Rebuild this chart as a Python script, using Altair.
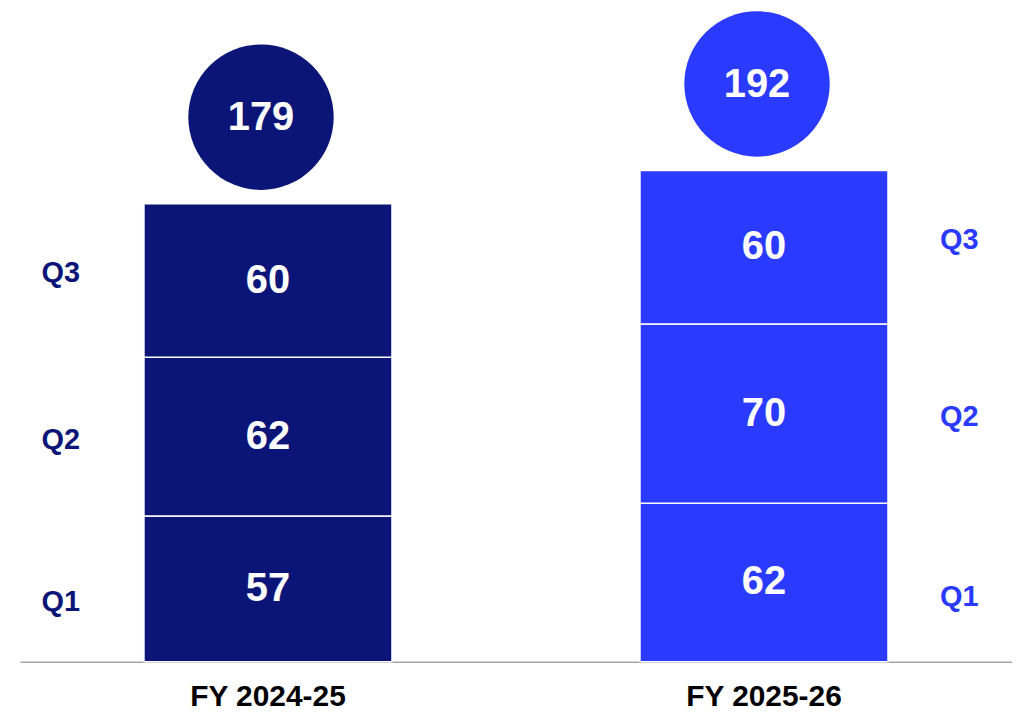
import altair as alt
import pandas as pd

years = ["FY 2024-25", "FY 2025-26"]
quarters = ["Q1", "Q2", "Q3"]
fy2425 = [57, 62, 60]
fy2526 = [62, 70, 60]
totals = [179, 192]
colors = ["#0B1577", "#2A3AFF"]

rows = []
for yr, vals in zip(years, [fy2425, fy2526]):
    for i, (q, v) in enumerate(zip(quarters, vals)):
        rows.append({"year": yr, "quarter": q, "qi": i, "value": v})
df = pd.DataFrame(rows)
tot = pd.DataFrame({"year": years, "total": totals})

FONT = "Liberation Sans"

x = alt.X(
    "year:N",
    sort=years,
    scale=alt.Scale(domain=years, paddingInner=0.5, paddingOuter=0.25),
    axis=alt.Axis(
        title=None, labelAngle=0, labelFont=FONT, labelFontWeight="bold",
        labelFontSize=30, labelColor="black", ticks=False,
        domainColor="#A6A6A6", domainWidth=1.5, labelPadding=20, grid=False,
    ),
)
yscale = alt.Scale(domain=[0, 255], nice=False, zero=True)
color = alt.Color("year:N", scale=alt.Scale(domain=years, range=colors), legend=None)

base = (
    alt.Chart(df)
    .transform_stack(stack="value", groupby=["year"], as_=["y0", "y1"],
                     sort=[alt.SortField("qi", order="ascending")])
    .transform_calculate(
        mid="(datum.y0 + datum.y1) / 2",
        qpos="datum.y0 + (0.41 + 0.07 * datum.qi) * (datum.y1 - datum.y0)",
    )
)

bars = base.mark_bar(stroke="white", strokeWidth=1.5).encode(
    x=x, y=alt.Y("y0:Q", scale=yscale, axis=None), y2="y1:Q", color=color
)

seg_text = base.mark_text(
    font=FONT, fontWeight="bold", fontSize=40, color="white", baseline="middle"
).encode(x=x, y=alt.Y("mid:Q", scale=yscale), text="value:Q")

q_left = base.transform_filter(alt.datum.year == years[0]).mark_text(
    font=FONT, fontWeight="bold", fontSize=29, color=colors[0], baseline="middle", dx=-208
).encode(x=x, y=alt.Y("qpos:Q", scale=yscale), text="quarter:N")

q_right = base.transform_filter(alt.datum.year == years[1]).mark_text(
    font=FONT, fontWeight="bold", fontSize=29, color=colors[1], baseline="middle", dx=196
).encode(x=x, y=alt.Y("qpos:Q", scale=yscale), text="quarter:N")

circles = alt.Chart(tot).mark_circle(size=21316, opacity=1, xOffset=-7, yOffset=-87).encode(
    x=x, y=alt.Y("total:Q", scale=yscale), color=color
)
circle_text = alt.Chart(tot).mark_text(
    font=FONT, fontWeight="bold", fontSize=40, color="white", baseline="middle",
    xOffset=-7, yOffset=-86
).encode(x=x, y=alt.Y("total:Q", scale=yscale), text="total:Q")

chart = (
    alt.layer(bars, seg_text, q_left, q_right, circles, circle_text)
    .properties(
        width=996, height=655,
        autosize=alt.AutoSizeParams(type="none"),
        padding={"left": 12, "top": 0, "right": 0, "bottom": 46},
    )
    .configure_view(stroke=None)
)

chart.save("out.html", embed_options={"renderer": "svg", "actions": False})
